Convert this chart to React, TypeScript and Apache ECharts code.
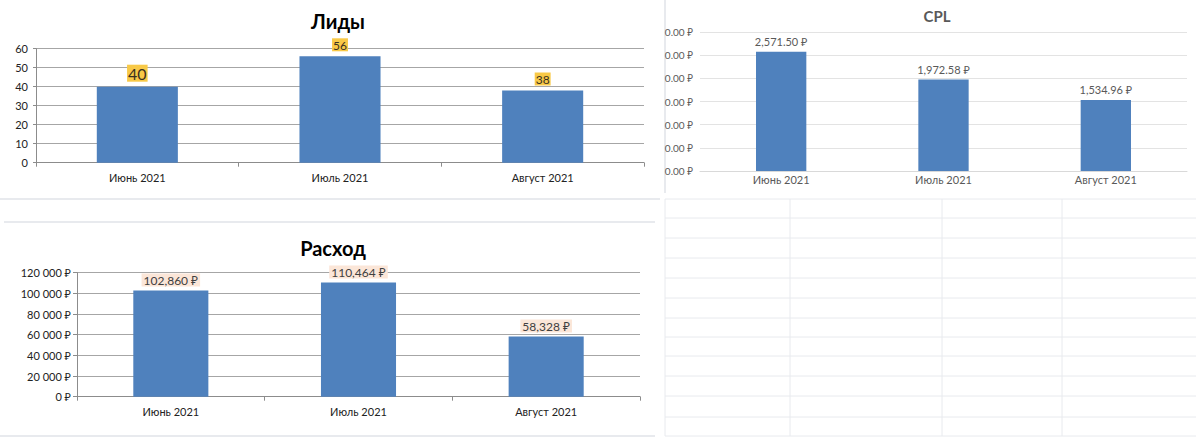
import React, { useEffect, useRef } from "react";
import * as echarts from "echarts";

const categories = ["Июнь 2021", "Июль 2021", "Август 2021"];
const leads = [40, 56, 38];
const cpl = [2571.5, 1972.58, 1534.96];
const spend = [102860, 110464, 58328];
const cplTickLabels = ["0.00 ₽", "0.00 ₽", "0.00 ₽", "0.00 ₽", "0.00 ₽", "0.00 ₽", "0.00 ₽"];

// spreadsheet background lines (layout only)
const sheetRows = [199, 218, 238, 258, 278, 298, 318, 337, 356, 376, 396, 417, 436];
const sheetCols = [665, 790, 942, 1062];

const FONT = "Lato, 'Noto Sans', 'DejaVu Sans', sans-serif";
const BAR = "#4f81bd";

const spaceThousands = (v: number) => String(v).replace(/\B(?=(\d{3})+(?!\d))/g, " ");
const commaThousands = (v: number, d: number) =>
  v.toLocaleString("en-US", { minimumFractionDigits: d, maximumFractionDigits: d });

export default function App() {
  const ref = useRef<HTMLDivElement>(null);
  useEffect(() => {
    if (!ref.current) return;
    const chart = echarts.init(ref.current, null, { renderer: "svg" });

    const faint = "#e8eaee";
    const graphics: any[] = [];
    sheetRows.forEach((y) =>
      graphics.push({ type: "line", silent: true, z: -10, shape: { x1: 665, y1: y, x2: 1196, y2: y }, style: { stroke: faint, lineWidth: 1 } })
    );
    sheetCols.forEach((x) =>
      graphics.push({ type: "line", silent: true, z: -10, shape: { x1: x, y1: 199, x2: x, y2: 436 }, style: { stroke: faint, lineWidth: 1 } })
    );
    graphics.push({ type: "line", silent: true, z: -10, shape: { x1: 0, y1: 199, x2: 660, y2: 199 }, style: { stroke: faint, lineWidth: 2 } });
    graphics.push({ type: "line", silent: true, z: -10, shape: { x1: 4, y1: 222, x2: 655, y2: 222 }, style: { stroke: faint, lineWidth: 2 } });
    graphics.push({ type: "line", silent: true, z: -10, shape: { x1: 0, y1: 436, x2: 655, y2: 436 }, style: { stroke: faint, lineWidth: 2 } });
    graphics.push({ type: "line", silent: true, z: -10, shape: { x1: 665, y1: 0, x2: 665, y2: 193 }, style: { stroke: faint, lineWidth: 2 } });

    const leadsLabelSize = [16, 12, 12];

    chart.setOption({
      animation: false,
      backgroundColor: "#ffffff",
      textStyle: { fontFamily: FONT },
      title: [
        { text: "Лиды", left: 333, top: 6, textAlign: "center", textStyle: { fontFamily: FONT, fontSize: 20, fontWeight: "bold", color: "#000" } },
        { text: "CPL", left: 932, top: 3, textAlign: "center", textStyle: { fontFamily: FONT, fontSize: 15, fontWeight: "bold", color: "#595959" } },
        { text: "Расход", left: 328, top: 233, textAlign: "center", textStyle: { fontFamily: FONT, fontSize: 20, fontWeight: "bold", color: "#000" } },
      ],
      graphic: graphics,
      grid: [
        { left: 36, top: 48.7, width: 608, height: 114 },
        { left: 700, top: 32, width: 487, height: 139 },
        { left: 77, top: 272.7, width: 563, height: 124 },
      ],
      xAxis: [
        {
          gridIndex: 0, type: "category", data: categories,
          axisLine: { show: true, lineStyle: { color: "#8c8c8c" } },
          axisTick: { show: true, length: 4, lineStyle: { color: "#8c8c8c" } },
          axisLabel: { color: "#222", fontSize: 11, margin: 9, fontFamily: FONT },
        },
        {
          gridIndex: 1, type: "category", data: categories,
          axisLine: { show: true, lineStyle: { color: "#d9d9d9" } },
          axisTick: { show: false },
          axisLabel: { color: "#595959", fontSize: 11, margin: 3, fontFamily: FONT },
        },
        {
          gridIndex: 2, type: "category", data: categories,
          axisLine: { show: true, lineStyle: { color: "#8c8c8c" } },
          axisTick: { show: true, length: 4, lineStyle: { color: "#8c8c8c" } },
          axisLabel: { color: "#222", fontSize: 11, margin: 9, fontFamily: FONT },
        },
      ],
      yAxis: [
        {
          gridIndex: 0, type: "value", min: 0, max: 60, interval: 10,
          axisLine: { show: true, lineStyle: { color: "#8c8c8c" } },
          axisTick: { show: true, length: 3, lineStyle: { color: "#8c8c8c" } },
          axisLabel: { color: "#222", fontSize: 11, margin: 8, fontFamily: FONT },
          splitLine: { show: true, lineStyle: { color: "#a6a6a6", width: 1 } },
        },
        {
          gridIndex: 1, type: "value", min: 0, max: 3000, interval: 500,
          axisLine: { show: false },
          axisTick: { show: false },
          axisLabel: { color: "#595959", fontSize: 10, margin: 7, fontFamily: FONT, formatter: (_v: number, i: number) => cplTickLabels[i] },
          splitLine: { show: true, lineStyle: { color: "#e3e3e3", width: 1 } },
        },
        {
          gridIndex: 2, type: "value", min: 0, max: 120000, interval: 20000,
          axisLine: { show: true, lineStyle: { color: "#8c8c8c" } },
          axisTick: { show: true, length: 4, lineStyle: { color: "#8c8c8c" } },
          axisLabel: { color: "#222", fontSize: 11, margin: 6, fontFamily: FONT, formatter: (v: number) => spaceThousands(v) + " ₽" },
          splitLine: { show: true, lineStyle: { color: "#a6a6a6", width: 1 } },
        },
      ],
      series: [
        {
          type: "bar", xAxisIndex: 0, yAxisIndex: 0, barWidth: "40%",
          itemStyle: { color: BAR },
          data: leads.map((v, i) => ({
            value: v,
            label: {
              show: true, position: "top", distance: 5,
              fontSize: leadsLabelSize[i], color: "#3a3020", fontFamily: FONT,
              backgroundColor: "#f8c947", padding: [1, 1, 0, 1],
            },
          })),
        },
        {
          type: "bar", xAxisIndex: 1, yAxisIndex: 1, barWidth: "31%",
          itemStyle: { color: BAR },
          label: {
            show: true, position: "top", distance: 5, fontSize: 11, color: "#595959", fontFamily: FONT,
            formatter: (p: any) => commaThousands(p.value, 2) + " ₽",
          },
          data: cpl,
        },
        {
          type: "bar", xAxisIndex: 2, yAxisIndex: 2, barWidth: "40%",
          itemStyle: { color: BAR },
          label: {
            show: true, position: "top", distance: 4, fontSize: 12, color: "#404040", fontFamily: FONT,
            backgroundColor: "#fbe6d8", padding: [1, 2, 0, 2],
            formatter: (p: any) => commaThousands(p.value, 0) + " ₽",
          },
          data: spend,
        },
      ],
    });
    return () => chart.dispose();
  }, []);

  return (
    <div
      ref={ref}
      style={{ position: "absolute", left: 0, top: 0, width: 1200, height: 446 }}
    />
  );
}
